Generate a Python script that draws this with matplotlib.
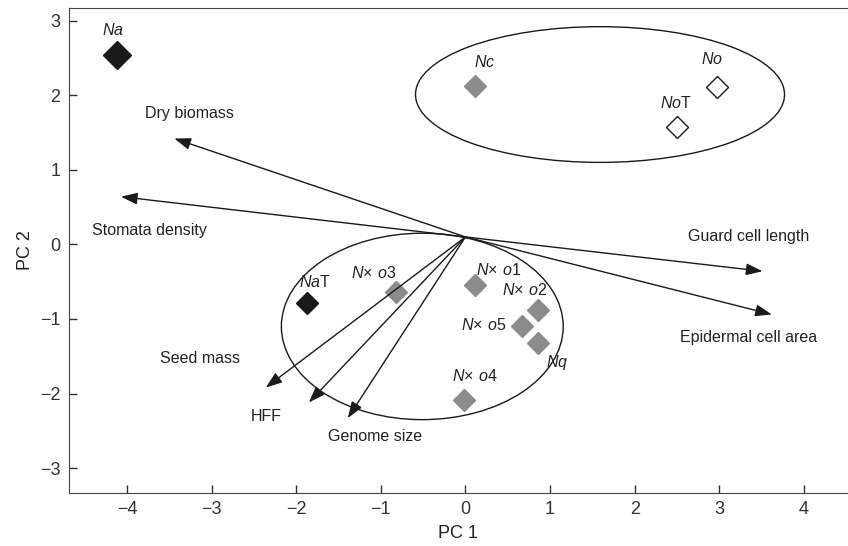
import matplotlib
matplotlib.use("Agg")
import matplotlib.pyplot as plt
from matplotlib.patches import Ellipse

plt.rcParams['font.family'] = ['Liberation Sans', 'DejaVu Sans']
plt.rcParams['mathtext.fontset'] = 'custom'
plt.rcParams['mathtext.it'] = 'Liberation Sans:italic'
plt.rcParams['mathtext.rm'] = 'Liberation Sans'

# sample scores (PC1, PC2)
names = [r'$Na$', r'$Nc$', r'$No$', r'$No\mathrm{T}$', r'$Na\mathrm{T}$',
         r'$N\!\times\, o3$', r'$N\!\times\, o1$', r'$N\!\times\, o2$',
         r'$N\!\times\, o5$', r'$Nq$', r'$N\!\times\, o4$']
pc1 = [-4.12, 0.11, 2.97, 2.50, -1.87, -0.82, 0.11, 0.86, 0.67, 0.86, -0.02]
pc2 = [2.54, 2.12, 2.11, 1.57, -0.78, -0.64, -0.55, -0.88, -1.10, -1.32, -2.08]
groups = ['black', 'grey', 'open', 'open', 'black',
          'grey', 'grey', 'grey', 'grey', 'grey', 'grey']
name_x = [-4.17, 0.23, 2.91, 2.49, -1.78, -1.09, 0.39, 0.70, 0.21, 1.08, 0.11]
name_y = [2.87, 2.44, 2.48, 1.90, -0.50, -0.38, -0.34, -0.61, -1.08, -1.59, -1.77]

# trait loadings (arrow tips) and label positions
traits = ['Dry biomass', 'Stomata density', 'Guard cell length', 'Epidermal cell area',
          'Seed mass', 'HFF', 'Genome size']
tip_x = [-3.44, -4.07, 3.51, 3.62, -2.36, -1.85, -1.39]
tip_y = [1.42, 0.64, -0.36, -0.94, -1.92, -2.12, -2.33]
lab_x = [-3.26, -3.73, 3.34, 3.34, -3.14, -2.35, -1.07]
lab_y = [1.76, 0.18, 0.10, -1.25, -1.53, -2.31, -2.57]
origin = (0.0, 0.1)

# group ellipses: centre, width, height
ell_centres = [(1.59, 2.01), (-0.51, -1.10)]
ell_sizes = [(4.36, 1.82), (3.33, 2.50)]

fig = plt.figure(figsize=(8.48, 5.46), dpi=100)
ax = fig.add_axes([0.0808, 0.0976, 0.9192, 0.8877])

for (cx, cy), (w, h) in zip(ell_centres, ell_sizes):
    ax.add_patch(Ellipse((cx, cy), w, h, fill=False, color='#1a1a1a', lw=1.0))

for tx, ty in zip(tip_x, tip_y):
    ax.annotate('', xy=(tx, ty), xytext=origin,
                arrowprops=dict(arrowstyle='-|>,head_length=1.0,head_width=0.36',
                                color='#1a1a1a', lw=1.0, shrinkA=0, shrinkB=0))
for t, x, y in zip(traits, lab_x, lab_y):
    ax.text(x, y, t, ha='center', va='center', fontsize=11.5, color='#222222')

styles = {'black': dict(mfc='#1a1a1a', mec='#1a1a1a'),
          'grey': dict(mfc='#8c8c8c', mec='#8c8c8c'),
          'open': dict(mfc='white', mec='#1a1a1a')}
for i in range(len(pc1)):
    ms = 14 if i == 0 else 11
    ax.plot(pc1[i], pc2[i], 'D', ms=ms, mew=1.0, **styles[groups[i]])
    ax.text(name_x[i], name_y[i], names[i], ha='center', va='center',
            fontsize=11.5, color='#222222')

ax.set_xlim(-4.69, 4.52)
ax.set_ylim(-3.33, 3.17)
ax.set_xticks([-4, -3, -2, -1, 0, 1, 2, 3, 4])
ax.set_yticks([-3, -2, -1, 0, 1, 2, 3])
ax.set_xticklabels(['\u22124', '\u22123', '\u22122', '\u22121', '0', '1', '2', '3', '4'])
ax.set_yticklabels(['\u22123', '\u22122', '\u22121', '0', '1', '2', '3'])
ax.tick_params(direction='in', length=6, width=1, colors='#333333', labelsize=13, pad=6)
ax.spines['right'].set_visible(False)
for s in ['left', 'bottom', 'top']:
    ax.spines[s].set_color('#444444')
ax.set_xlabel('PC 1', fontsize=13, color='#222222', labelpad=5)
ax.set_ylabel('PC 2', fontsize=13, color='#222222', labelpad=4)

fig.savefig('out.png', dpi=100)
